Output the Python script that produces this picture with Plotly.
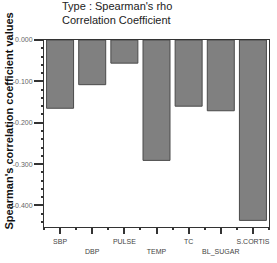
import plotly.graph_objects as go

categories = ["SBP", "DBP", "PULSE", "TEMP", "TC", "BL_SUGAR", "S.CORTIS"]
values = [-0.165, -0.108, -0.056, -0.291, -0.160, -0.171, -0.436]
y_tick_vals = [0.0, -0.1, -0.2, -0.3, -0.4]
y_tick_text = ["0.000", "-0.100", "-0.200", "-0.300", "-0.400"]

positions = list(range(len(categories)))
tick_text = [c if i % 2 == 0 else "<br>" + c for i, c in enumerate(categories)]

W, H = 277, 263
L, R, T, B = 44, 7, 40, 30
pw, ph = W - L - R, H - T - B

def px_x(p):
    return (p - L) / pw

def px_y(p):
    return (H - B - p) / ph

fig = go.Figure(go.Bar(
    x=positions, y=values,
    marker=dict(color="#808080", line=dict(color="#4a4a4a", width=1)),
    width=0.84,
))

fig.update_layout(
    width=W, height=H,
    margin=dict(l=L, r=R, t=T, b=B),
    paper_bgcolor="white", plot_bgcolor="white",
    showlegend=False,
    font=dict(family="Liberation Sans, Arial, sans-serif"),
    xaxis=dict(
        range=[-0.5, 6.5], tickmode="array", tickvals=positions, ticktext=tick_text,
        tickangle=0, ticklabelstandoff=2,
        ticks="outside", ticklen=6, tickwidth=1.5, tickcolor="#333",
        tickfont=dict(size=7, color="#444"),
        showline=True, linecolor="#333", linewidth=1, mirror=True,
        showgrid=False, zeroline=False,
        minor=dict(tickmode="linear", tick0=0.5, dtick=1, ticks="outside", ticklen=2, tickcolor="#333", tickwidth=1.5),
    ),
    yaxis=dict(
        range=[-0.452, 0], tickmode="array", tickvals=y_tick_vals, ticktext=y_tick_text,
        ticks="outside", ticklen=9, tickwidth=1.5, tickcolor="#333",
        tickfont=dict(size=7, color="#666"),
        showline=True, linecolor="#333", linewidth=1, mirror=True,
        showgrid=False, zeroline=False,
        minor=dict(tickmode="linear", tick0=0, dtick=0.02, ticks="outside", ticklen=2, tickcolor="#333", tickwidth=1.5),
    ),
    annotations=[
        dict(text="Type : Spearman's rho<br>Correlation Coefficient", xref="paper", yref="paper",
             x=px_x(60), y=px_y(28), xanchor="left", yanchor="bottom", align="left",
             showarrow=False, font=dict(size=11, color="#222")),
        dict(text="<b>Spearman's correlation coefficient values</b>", xref="paper", yref="paper",
             x=px_x(9), y=px_y(124), xanchor="center", yanchor="middle", textangle=-90,
             showarrow=False, font=dict(size=11, color="#111")),
    ],
)

fig.write_html("out.html")
